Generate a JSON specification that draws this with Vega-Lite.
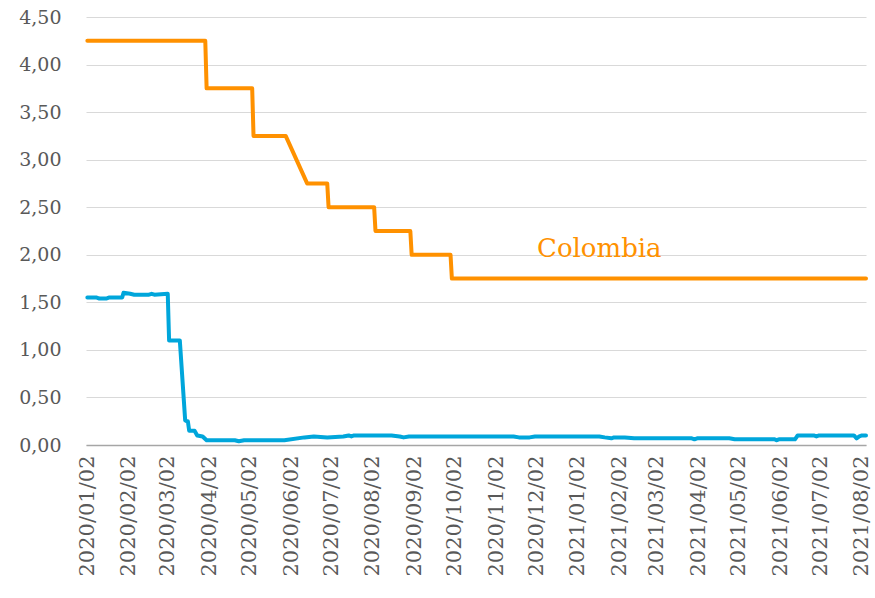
{
  "$schema": "https://vega.github.io/schema/vega-lite/v6.json",
  "width": 780,
  "height": 428,
  "autosize": {"type": "none"},
  "padding": {"left": 86, "top": 17, "right": 9, "bottom": 153},
  "background": "white",
  "config": {
    "view": {"stroke": null},
    "font": "DejaVu Serif",
    "axis": {"labelFont": "DejaVu Serif", "labelColor": "#595959", "labelFontSize": 19}
  },
  "datasets": {
    "rates": [
      {"date": "2020/01/02", "serie": "Colombia", "tasa": 4.25},
      {"date": "2020/03/30", "serie": "Colombia", "tasa": 4.25},
      {"date": "2020/03/31", "serie": "Colombia", "tasa": 3.75},
      {"date": "2020/05/04", "serie": "Colombia", "tasa": 3.75},
      {"date": "2020/05/05", "serie": "Colombia", "tasa": 3.25},
      {"date": "2020/05/29", "serie": "Colombia", "tasa": 3.25},
      {"date": "2020/06/14", "serie": "Colombia", "tasa": 2.75},
      {"date": "2020/06/29", "serie": "Colombia", "tasa": 2.75},
      {"date": "2020/06/30", "serie": "Colombia", "tasa": 2.5},
      {"date": "2020/08/03", "serie": "Colombia", "tasa": 2.5},
      {"date": "2020/08/04", "serie": "Colombia", "tasa": 2.25},
      {"date": "2020/08/30", "serie": "Colombia", "tasa": 2.25},
      {"date": "2020/08/31", "serie": "Colombia", "tasa": 2.0},
      {"date": "2020/09/29", "serie": "Colombia", "tasa": 2.0},
      {"date": "2020/09/30", "serie": "Colombia", "tasa": 1.75},
      {"date": "2021/08/05", "serie": "Colombia", "tasa": 1.75},
      {"date": "2020/01/02", "serie": "Estados Unidos", "tasa": 1.55},
      {"date": "2020/01/09", "serie": "Estados Unidos", "tasa": 1.55},
      {"date": "2020/01/11", "serie": "Estados Unidos", "tasa": 1.54},
      {"date": "2020/01/16", "serie": "Estados Unidos", "tasa": 1.54},
      {"date": "2020/01/18", "serie": "Estados Unidos", "tasa": 1.55},
      {"date": "2020/01/28", "serie": "Estados Unidos", "tasa": 1.55},
      {"date": "2020/01/29", "serie": "Estados Unidos", "tasa": 1.6},
      {"date": "2020/02/03", "serie": "Estados Unidos", "tasa": 1.59},
      {"date": "2020/02/06", "serie": "Estados Unidos", "tasa": 1.58},
      {"date": "2020/02/17", "serie": "Estados Unidos", "tasa": 1.58},
      {"date": "2020/02/19", "serie": "Estados Unidos", "tasa": 1.59},
      {"date": "2020/02/21", "serie": "Estados Unidos", "tasa": 1.58},
      {"date": "2020/03/02", "serie": "Estados Unidos", "tasa": 1.59},
      {"date": "2020/03/03", "serie": "Estados Unidos", "tasa": 1.1},
      {"date": "2020/03/11", "serie": "Estados Unidos", "tasa": 1.1},
      {"date": "2020/03/15", "serie": "Estados Unidos", "tasa": 0.26},
      {"date": "2020/03/16", "serie": "Estados Unidos", "tasa": 0.25},
      {"date": "2020/03/17", "serie": "Estados Unidos", "tasa": 0.25},
      {"date": "2020/03/18", "serie": "Estados Unidos", "tasa": 0.15},
      {"date": "2020/03/22", "serie": "Estados Unidos", "tasa": 0.15},
      {"date": "2020/03/24", "serie": "Estados Unidos", "tasa": 0.1},
      {"date": "2020/03/28", "serie": "Estados Unidos", "tasa": 0.09},
      {"date": "2020/03/31", "serie": "Estados Unidos", "tasa": 0.05},
      {"date": "2020/04/21", "serie": "Estados Unidos", "tasa": 0.05},
      {"date": "2020/04/24", "serie": "Estados Unidos", "tasa": 0.04},
      {"date": "2020/04/28", "serie": "Estados Unidos", "tasa": 0.05},
      {"date": "2020/05/28", "serie": "Estados Unidos", "tasa": 0.05},
      {"date": "2020/06/12", "serie": "Estados Unidos", "tasa": 0.08},
      {"date": "2020/06/19", "serie": "Estados Unidos", "tasa": 0.09},
      {"date": "2020/06/29", "serie": "Estados Unidos", "tasa": 0.08},
      {"date": "2020/07/11", "serie": "Estados Unidos", "tasa": 0.09},
      {"date": "2020/07/15", "serie": "Estados Unidos", "tasa": 0.1},
      {"date": "2020/07/17", "serie": "Estados Unidos", "tasa": 0.09},
      {"date": "2020/07/19", "serie": "Estados Unidos", "tasa": 0.1},
      {"date": "2020/08/16", "serie": "Estados Unidos", "tasa": 0.1},
      {"date": "2020/08/22", "serie": "Estados Unidos", "tasa": 0.09},
      {"date": "2020/08/25", "serie": "Estados Unidos", "tasa": 0.08},
      {"date": "2020/08/29", "serie": "Estados Unidos", "tasa": 0.09},
      {"date": "2020/11/15", "serie": "Estados Unidos", "tasa": 0.09},
      {"date": "2020/11/19", "serie": "Estados Unidos", "tasa": 0.08},
      {"date": "2020/11/27", "serie": "Estados Unidos", "tasa": 0.08},
      {"date": "2020/12/01", "serie": "Estados Unidos", "tasa": 0.09},
      {"date": "2021/01/18", "serie": "Estados Unidos", "tasa": 0.09},
      {"date": "2021/01/22", "serie": "Estados Unidos", "tasa": 0.08},
      {"date": "2021/01/27", "serie": "Estados Unidos", "tasa": 0.07},
      {"date": "2021/01/29", "serie": "Estados Unidos", "tasa": 0.08},
      {"date": "2021/02/06", "serie": "Estados Unidos", "tasa": 0.08},
      {"date": "2021/02/13", "serie": "Estados Unidos", "tasa": 0.07},
      {"date": "2021/03/28", "serie": "Estados Unidos", "tasa": 0.07},
      {"date": "2021/03/30", "serie": "Estados Unidos", "tasa": 0.06},
      {"date": "2021/04/01", "serie": "Estados Unidos", "tasa": 0.07},
      {"date": "2021/04/25", "serie": "Estados Unidos", "tasa": 0.07},
      {"date": "2021/04/29", "serie": "Estados Unidos", "tasa": 0.06},
      {"date": "2021/05/29", "serie": "Estados Unidos", "tasa": 0.06},
      {"date": "2021/05/30", "serie": "Estados Unidos", "tasa": 0.05},
      {"date": "2021/06/01", "serie": "Estados Unidos", "tasa": 0.06},
      {"date": "2021/06/13", "serie": "Estados Unidos", "tasa": 0.06},
      {"date": "2021/06/15", "serie": "Estados Unidos", "tasa": 0.1},
      {"date": "2021/06/27", "serie": "Estados Unidos", "tasa": 0.1},
      {"date": "2021/06/29", "serie": "Estados Unidos", "tasa": 0.09},
      {"date": "2021/07/01", "serie": "Estados Unidos", "tasa": 0.1},
      {"date": "2021/07/27", "serie": "Estados Unidos", "tasa": 0.1},
      {"date": "2021/07/29", "serie": "Estados Unidos", "tasa": 0.07},
      {"date": "2021/07/31", "serie": "Estados Unidos", "tasa": 0.09},
      {"date": "2021/08/02", "serie": "Estados Unidos", "tasa": 0.1},
      {"date": "2021/08/05", "serie": "Estados Unidos", "tasa": 0.1}
    ],
    "labels": [
      {"date": "2021/01/18", "tasa": 1.98, "texto": "Colombia", "serie": "Colombia"}
    ]
  },
  "layer": [
    {
      "data": {"name": "rates"},
      "mark": {"type": "line", "strokeWidth": 4, "strokeJoin": "round", "strokeCap": "round"},
      "encoding": {
        "x": {
          "field": "date",
          "type": "temporal",
          "scale": {"domain": [{"year": 2020, "month": 1, "date": 1}, {"year": 2021, "month": 8, "date": 5}]},
          "axis": {
            "title": null,
            "format": "%Y/%m/%d",
            "labelAngle": -90,
            "labelPadding": 10,
            "labelFontSize": 21,
            "ticks": false,
            "grid": false,
            "domainColor": "#a6a6a6",
            "domainWidth": 1.5,
            "labelOverlap": false,
            "values": [
              {"year": 2020, "month": 1, "date": 2},
              {"year": 2020, "month": 2, "date": 2},
              {"year": 2020, "month": 3, "date": 2},
              {"year": 2020, "month": 4, "date": 2},
              {"year": 2020, "month": 5, "date": 2},
              {"year": 2020, "month": 6, "date": 2},
              {"year": 2020, "month": 7, "date": 2},
              {"year": 2020, "month": 8, "date": 2},
              {"year": 2020, "month": 9, "date": 2},
              {"year": 2020, "month": 10, "date": 2},
              {"year": 2020, "month": 11, "date": 2},
              {"year": 2020, "month": 12, "date": 2},
              {"year": 2021, "month": 1, "date": 2},
              {"year": 2021, "month": 2, "date": 2},
              {"year": 2021, "month": 3, "date": 2},
              {"year": 2021, "month": 4, "date": 2},
              {"year": 2021, "month": 5, "date": 2},
              {"year": 2021, "month": 6, "date": 2},
              {"year": 2021, "month": 7, "date": 2},
              {"year": 2021, "month": 8, "date": 2}
            ]
          }
        },
        "y": {
          "field": "tasa",
          "type": "quantitative",
          "scale": {"domain": [0, 4.5], "nice": false},
          "axis": {
            "title": null,
            "values": [0, 0.5, 1, 1.5, 2, 2.5, 3, 3.5, 4, 4.5],
            "labelExpr": "replace(format(datum.value, '.2f'), '.', ',')",
            "domain": false,
            "ticks": false,
            "labelPadding": 25,
            "gridColor": "#d9d9d9",
            "gridWidth": 1.2
          }
        },
        "color": {
          "field": "serie",
          "type": "nominal",
          "scale": {"domain": ["Colombia", "Estados Unidos"], "range": ["#FF9100", "#00A6DB"]},
          "legend": null
        }
      }
    },
    {
      "data": {"name": "labels"},
      "mark": {"type": "text", "fontSize": 26, "align": "center", "baseline": "alphabetic", "font": "DejaVu Serif", "fontWeight": 300},
      "encoding": {
        "x": {"field": "date", "type": "temporal"},
        "y": {"field": "tasa", "type": "quantitative"},
        "text": {"field": "texto"},
        "color": {"field": "serie", "type": "nominal", "legend": null}
      }
    }
  ]
}
